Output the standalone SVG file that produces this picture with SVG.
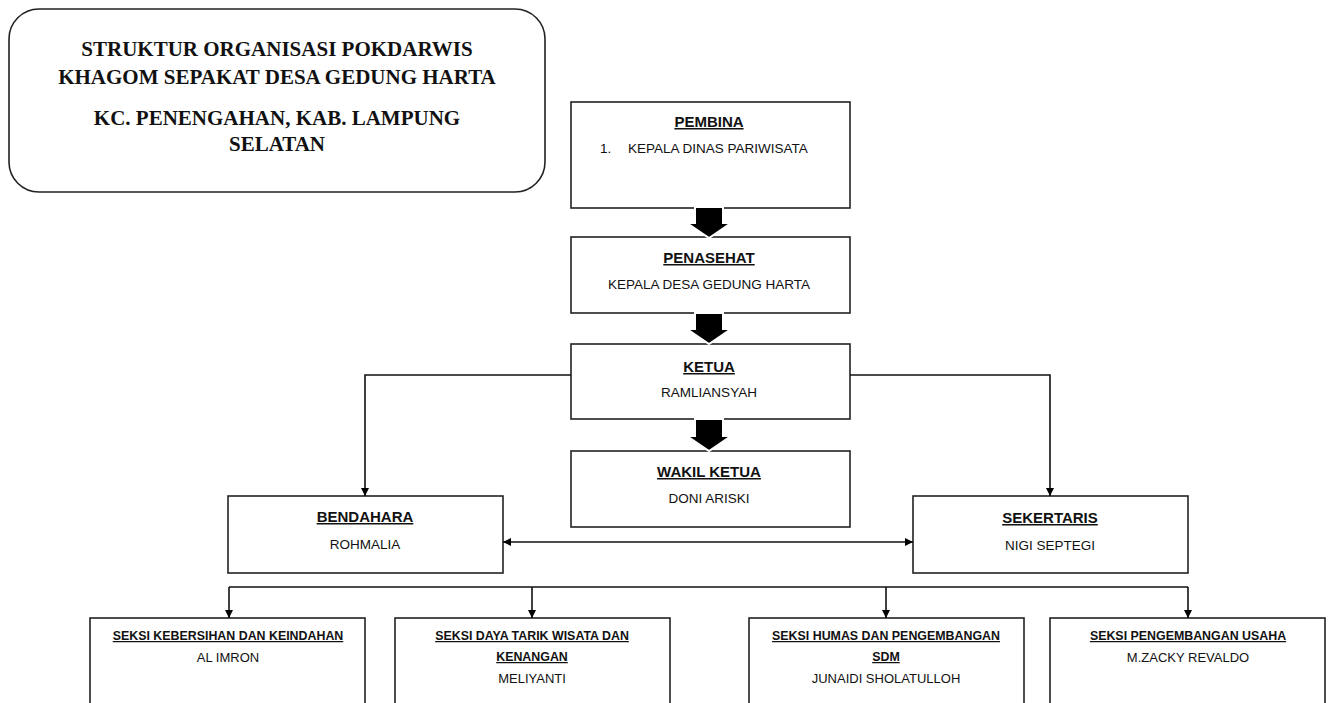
<svg xmlns="http://www.w3.org/2000/svg" width="1332" height="703" viewBox="0 0 1332 703">
<defs>
<style>
.box{fill:#fff;stroke:#222;stroke-width:1.6}
.title{font-family:"Liberation Serif","Times New Roman",serif;font-weight:bold;font-size:21px;fill:#111;text-anchor:middle}
.h{font-family:"Liberation Sans",Arial,sans-serif;font-weight:bold;font-size:15px;fill:#111;text-anchor:middle;text-decoration:underline}
.t{font-family:"Liberation Sans",Arial,sans-serif;font-size:13.5px;fill:#111;text-anchor:middle}
.hs{font-family:"Liberation Sans",Arial,sans-serif;font-weight:bold;font-size:12.4px;fill:#111;text-anchor:middle;text-decoration:underline}
.ts{font-family:"Liberation Sans",Arial,sans-serif;font-size:13px;fill:#111;text-anchor:middle}
.ln{fill:none;stroke:#111;stroke-width:1.6}
.blk{fill:#000;stroke:#fff;stroke-width:2}
</style>
<marker id="ah" viewBox="0 0 10 10" refX="10" refY="5" markerWidth="8" markerHeight="8" markerUnits="userSpaceOnUse" orient="auto-start-reverse">
<path d="M0,0 L10,5 L0,10 z" fill="#000"/>
</marker>
</defs>

<g id="title">
<rect x="9" y="9" width="536" height="183" rx="30" ry="30" class="box"/>
<text class="title" x="277" y="56">STRUKTUR ORGANISASI POKDARWIS</text>
<text class="title" x="277" y="84">KHAGOM SEPAKAT DESA GEDUNG HARTA</text>
<text class="title" x="277" y="125">KC. PENENGAHAN, KAB. LAMPUNG</text>
<text class="title" x="277" y="151">SELATAN</text>
</g>

<g id="pembina">
<rect x="571" y="102" width="279" height="106" class="box"/>
<text class="h" x="709" y="127">PEMBINA</text>
<text class="t" x="600" y="153" style="text-anchor:start">1.</text>
<text class="t" x="628" y="153" style="text-anchor:start">KEPALA DINAS PARIWISATA</text>
</g>

<g id="penasehat">
<rect x="571" y="237" width="279" height="76" class="box"/>
<text class="h" x="709" y="263">PENASEHAT</text>
<text class="t" x="709" y="289">KEPALA DESA GEDUNG HARTA</text>
</g>

<g id="ketua">
<rect x="571" y="344" width="279" height="75" class="box"/>
<text class="h" x="709" y="372">KETUA</text>
<text class="t" x="709" y="397">RAMLIANSYAH</text>
</g>

<g id="wakil-ketua">
<rect x="571" y="451" width="279" height="76" class="box"/>
<text class="h" x="709" y="477">WAKIL KETUA</text>
<text class="t" x="709" y="503">DONI ARISKI</text>
</g>

<g id="bendahara">
<rect x="228" y="496" width="275" height="77" class="box"/>
<text class="h" x="365" y="522">BENDAHARA</text>
<text class="t" x="365" y="549">ROHMALIA</text>
</g>

<g id="sekertaris">
<rect x="913" y="496" width="275" height="77" class="box"/>
<text class="h" x="1050" y="523">SEKERTARIS</text>
<text class="t" x="1050" y="550">NIGI SEPTEGI</text>
</g>

<g id="seksi-kebersihan">
<rect x="90" y="618" width="275" height="100" class="box"/>
<text class="hs" x="228" y="640">SEKSI KEBERSIHAN DAN KEINDAHAN</text>
<text class="ts" x="228" y="662">AL IMRON</text>
</g>

<g id="seksi-daya-tarik">
<rect x="395" y="618" width="275" height="100" class="box"/>
<text class="hs" x="532" y="640">SEKSI DAYA TARIK WISATA DAN</text>
<text class="hs" x="532" y="661">KENANGAN</text>
<text class="ts" x="532" y="683">MELIYANTI</text>
</g>

<g id="seksi-humas">
<rect x="749" y="618" width="275" height="100" class="box"/>
<text class="hs" x="886" y="640">SEKSI HUMAS DAN PENGEMBANGAN</text>
<text class="hs" x="886" y="661">SDM</text>
<text class="ts" x="886" y="683">JUNAIDI SHOLATULLOH</text>
</g>

<g id="seksi-usaha">
<rect x="1050" y="618" width="275" height="100" class="box"/>
<text class="hs" x="1188" y="640">SEKSI PENGEMBANGAN USAHA</text>
<text class="ts" x="1188" y="662">M.ZACKY REVALDO</text>
</g>

<g id="connectors">
<polygon class="blk" points="695,207 723,207 723,223 731,223 709,238 687,223 695,223"/>
<polygon class="blk" points="695,313 723,313 723,329 731,329 709,344 687,329 695,329"/>
<polygon class="blk" points="695,419 723,419 723,436 731,436 709,451 687,436 695,436"/>
<path class="ln" d="M571,375 H365 V496" marker-end="url(#ah)"/>
<path class="ln" d="M850,375 H1050 V496" marker-end="url(#ah)"/>
<path class="ln" d="M503,542 H913" marker-start="url(#ah)" marker-end="url(#ah)"/>
<path class="ln" d="M229,587 H1188"/>
<path class="ln" d="M229,587 V618" marker-end="url(#ah)"/>
<path class="ln" d="M532,587 V618" marker-end="url(#ah)"/>
<path class="ln" d="M886,587 V618" marker-end="url(#ah)"/>
<path class="ln" d="M1188,587 V618" marker-end="url(#ah)"/>
</g>
</svg>
